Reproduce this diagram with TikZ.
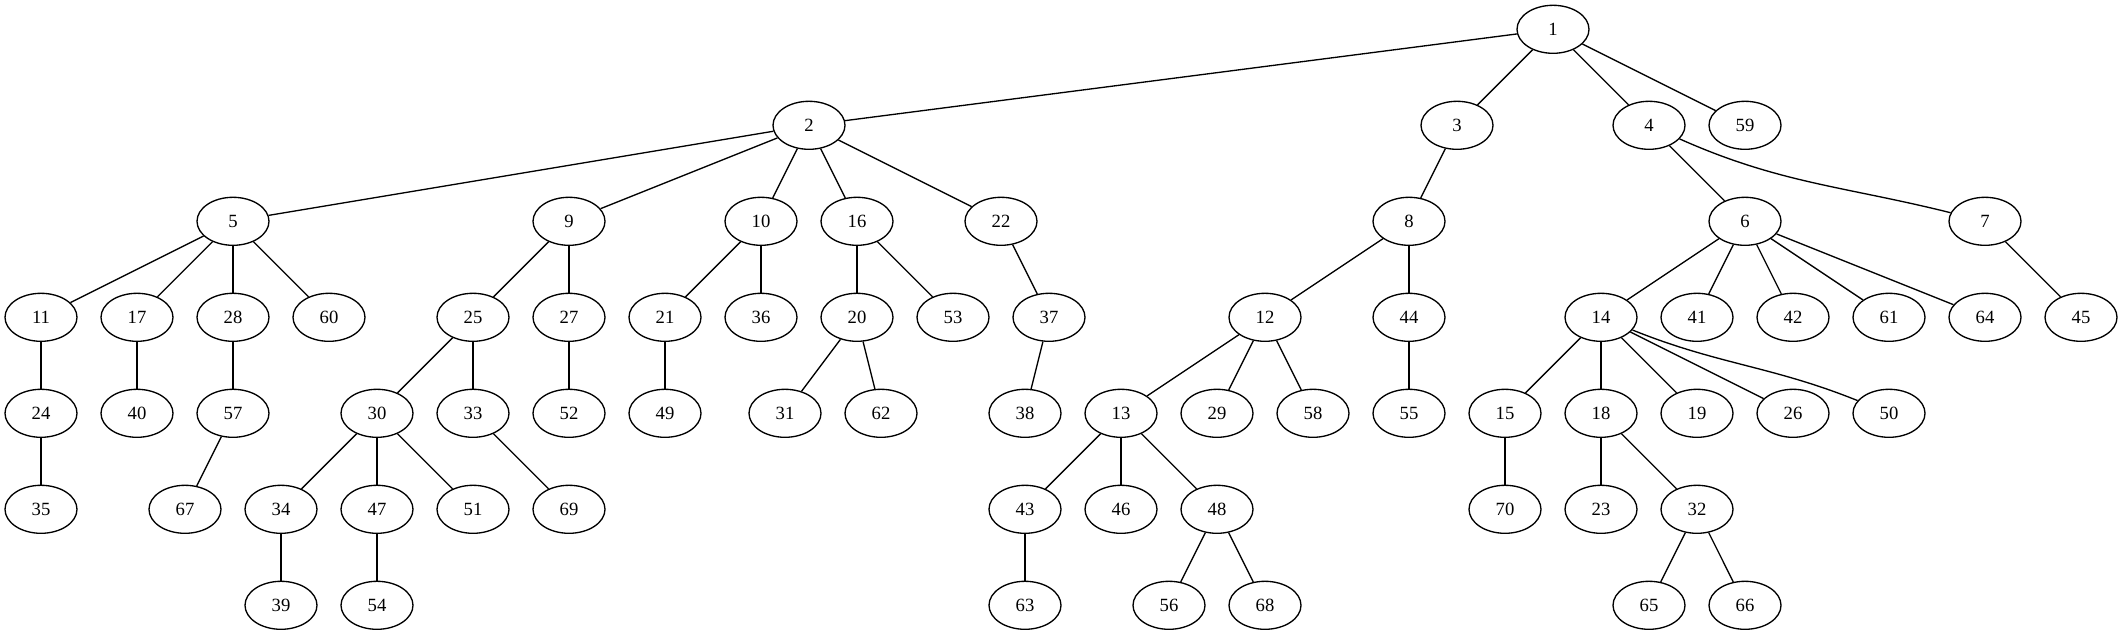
\documentclass[tikz,border=0pt]{standalone}
\usepackage{fontspec}
\setmainfont{Liberation Serif}
\usetikzlibrary{shapes.geometric}

\begin{document}
\begin{tikzpicture}[x=0.75pt,y=-0.75pt,line width=1pt,
    vertex/.style={ellipse,draw=black,fill=white,inner sep=0pt,minimum width=54pt,minimum height=36pt,font=\fontsize{14}{16}\selectfont}
    ]
    \useasboundingbox (0,0) rectangle (2123,635);

    % nodes: name / x / rank
    \foreach \n/\x/\r in {1/1553/0,
        2/809/1, 3/1457/1, 4/1649/1, 59/1745/1,
        5/233/2, 9/569/2, 10/761/2, 16/857/2, 22/1001/2, 8/1409/2, 6/1745/2, 7/1985/2,
        11/41/3, 17/137/3, 28/233/3, 60/329/3, 25/473/3, 27/569/3, 21/665/3, 36/761/3, 20/857/3, 53/953/3,
        37/1049/3, 12/1265/3, 44/1409/3, 14/1601/3, 41/1697/3, 42/1793/3, 61/1889/3, 64/1985/3, 45/2081/3,
        24/41/4, 40/137/4, 57/233/4, 30/377/4, 33/473/4, 52/569/4, 49/665/4, 31/785/4, 62/881/4, 38/1025/4,
        13/1121/4, 29/1217/4, 58/1313/4, 55/1409/4, 15/1505/4, 18/1601/4, 19/1697/4, 26/1793/4, 50/1889/4,
        35/41/5, 67/185/5, 34/281/5, 47/377/5, 51/473/5, 69/569/5, 43/1025/5, 46/1121/5, 48/1217/5,
        70/1505/5, 23/1601/5, 32/1697/5,
        39/281/6, 54/377/6, 63/1025/6, 56/1169/6, 68/1265/6, 65/1649/6, 66/1745/6} {
        \node[vertex] (n\n) at (\x,{29.3+96*\r}) {\n};
    }

    % tree edges
    \foreach \a/\b in {1/2,1/3,1/4,1/59, 2/5,2/9,2/10,2/16,2/22, 3/8, 4/6,
        5/11,5/17,5/28,5/60, 9/25,9/27, 10/21,10/36, 16/20,16/53, 22/37, 8/12,8/44,
        6/14,6/41,6/42,6/61,6/64, 7/45, 11/24, 17/40, 28/57, 25/30,25/33, 27/52, 21/49,
        20/31,20/62, 37/38, 12/13,12/29,12/58, 44/55, 14/15,14/18,14/19,14/26,
        24/35, 57/67, 30/34,30/47,30/51, 33/69, 13/43,13/46,13/48, 15/70, 18/23,18/32,
        34/39, 47/54, 43/63, 48/56,48/68, 32/65,32/66} {
        \draw (n\a) -- (n\b);
    }

    % the two bent ones
    \draw (n4) to[out=-24,in=166] (n7);
    \draw (n14) to[out=-22,in=158] (n50);
\end{tikzpicture}
\end{document}
